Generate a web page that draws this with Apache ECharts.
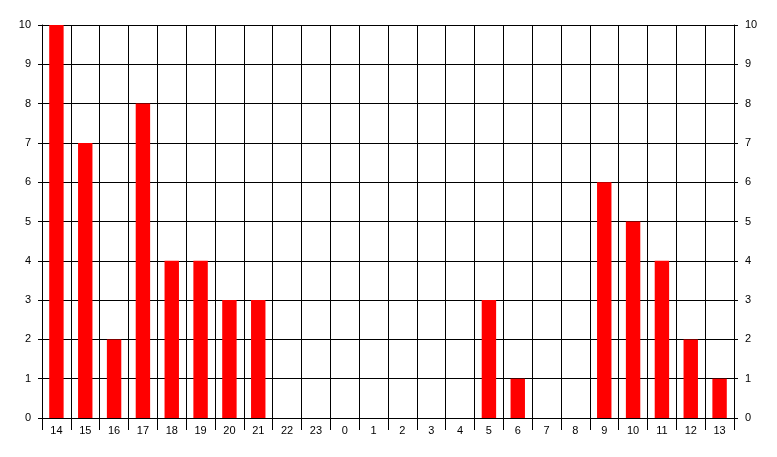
<!DOCTYPE html>
<html><head><meta charset="utf-8">
<script src="https://cdn.jsdelivr.net/npm/echarts@6/dist/echarts.min.js"></script>
<style>html,body{margin:0;padding:0;background:#fff}#c{width:777px;height:457px}</style>
</head><body><div id="c"></div>
<script>
const hours = ['14','15','16','17','18','19','20','21','22','23','0','1','2','3','4','5','6','7','8','9','10','11','12','13'];
const counts = [10,7,2,8,4,4,3,3,0,0,0,0,0,0,0,3,1,0,0,6,5,4,2,1];
const yTicks = [0,1,2,3,4,5,6,7,8,9,10];

const chart = echarts.init(document.getElementById('c'), null, {renderer:'canvas'});
const font = {fontFamily:'Liberation Sans, Arial, sans-serif', fontSize:11, color:'#000'};
const yAxisCommon = {
  type:'value', min:yTicks[0], max:yTicks[yTicks.length-1], interval:1,
  axisLine:{show:true, lineStyle:{color:'#000', width:1}},
  axisTick:{show:true, length:4, lineStyle:{color:'#000'}},
  axisLabel:Object.assign({margin:11}, font),
  splitLine:{show:false}
};
chart.setOption({
  animation:false,
  backgroundColor:'#fff',
  grid:{left:42, right:43, top:25, bottom:39},
  xAxis:{
    type:'category', data:hours, boundaryGap:true,
    axisLine:{show:true, lineStyle:{color:'#000', width:1}},
    axisTick:{show:true, length:12, inside:false, lineStyle:{color:'#000'}},
    axisLabel:Object.assign({margin:7, interval:0}, font),
    splitLine:{show:true, interval:0, lineStyle:{color:'#000', width:1}}
  },
  yAxis:[
    Object.assign({}, yAxisCommon, {position:'left', splitLine:{show:true, lineStyle:{color:'#000', width:1}}}),
    Object.assign({}, yAxisCommon, {position:'right'})
  ],
  series:[{
    type:'bar', data:counts, barWidth:'50%', yAxisIndex:0,
    itemStyle:{color:'#ff0000'}
  }]
});
</script></body></html>
